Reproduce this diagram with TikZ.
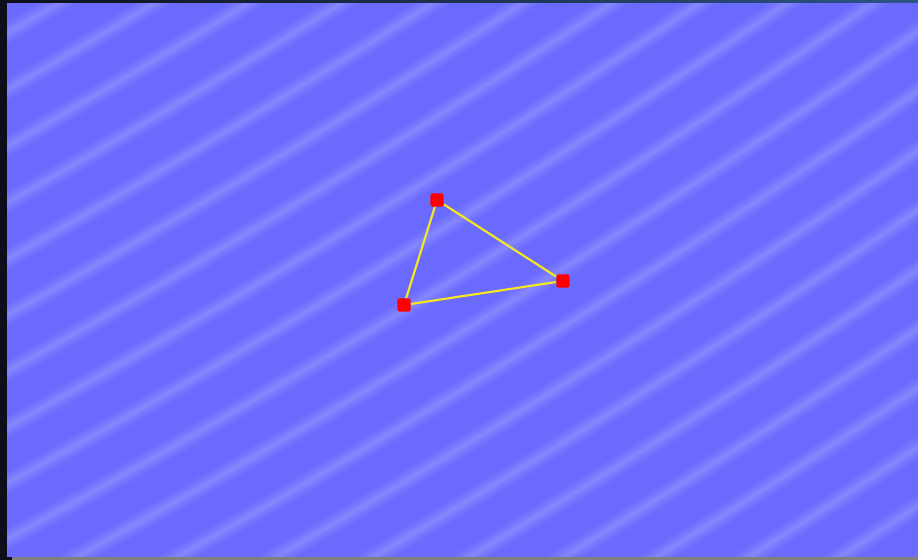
\documentclass[tikz,border=0pt]{standalone}
\usepackage{tikz}
\usetikzlibrary{calc}

\definecolor{seablue}{RGB}{106,106,255}
\definecolor{ripple}{RGB}{190,190,255}
\definecolor{frameDark}{RGB}{12,15,25}
\definecolor{frameGray}{RGB}{128,128,128}
\definecolor{edgeYellow}{RGB}{245,232,30}
\definecolor{vertexRed}{RGB}{255,0,0}

\begin{document}
\begin{tikzpicture}[x=0.75pt,y=0.75pt,yscale=-1,
    vertex/.style={rectangle,fill=vertexRed,draw=none,minimum size=10pt,inner sep=0pt,rounded corners=1.2pt},
    edge/.style={draw=edgeYellow,line width=1.6pt}]
    \useasboundingbox (0,0) rectangle (918,560); %whole window, 918 by 560

    %Shape: Rectangle [background]
    \fill[seablue] (7,3) rectangle (918,557);

    %Ripples, arcs of circles far up left, soft edges
    \begin{scope}
    \clip (7,3) rectangle (918,557);
    \foreach \k in {-1,...,20}{
        \foreach \w/\o in {15pt/0.07,11pt/0.08,7pt/0.1,3.5pt/0.13}{
            \draw[ripple,opacity=\o,line width=\w] (-4283,-7370) circle ({8555+49*\k});
        }
    }
    \end{scope}

    %Shape: Frame strips
    \fill[frameDark] (0,0) rectangle (7,560);
    \shade[left color=frameDark,right color={rgb,255:red,45;green,85;blue,135}] (7,0) rectangle (918,3);
    \fill[frameGray] (12,557) rectangle (918,560);
    \fill[frameDark] (0,557) rectangle (12,560);

    % Triangle vertices
    \node[vertex] (top) at (437,200) {};
    \node[vertex] (left) at (404,305) {};
    \node[vertex] (right) at (563,281) {};

    % Triangle edges
    \draw[edge] (top) -- (right);
    \draw[edge] (right) -- (left);
    \draw[edge] (left) -- (top);
\end{tikzpicture}
\end{document}
